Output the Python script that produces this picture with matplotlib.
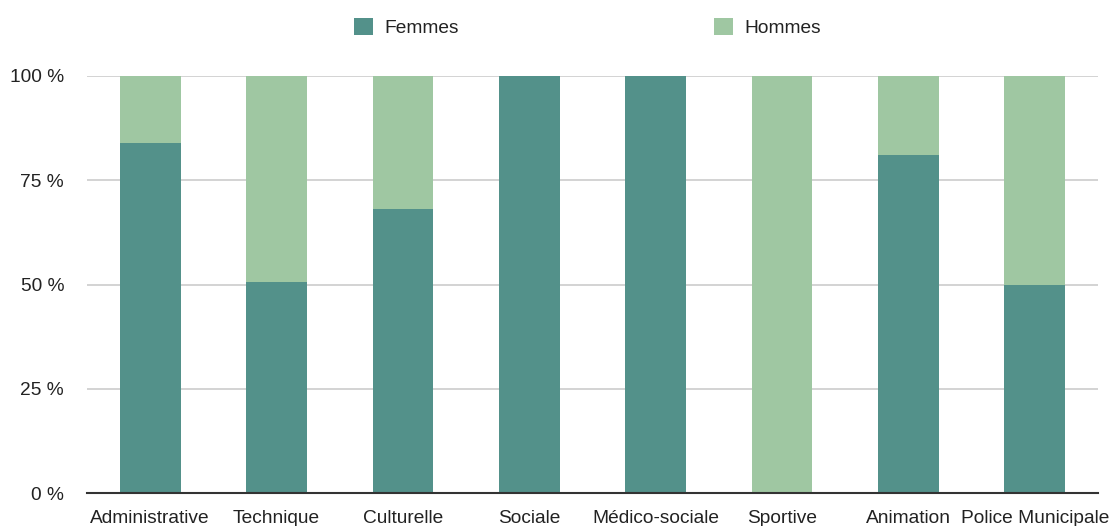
import matplotlib
matplotlib.use("Agg")
import matplotlib.pyplot as plt
import numpy as np

categories = ["Administrative", "Technique", "Culturelle", "Sociale",
              "Médico-sociale", "Sportive", "Animation", "Police Municipale"]
femmes = [84, 50.5, 68, 100, 100, 0, 81, 50]
hommes = [100 - v for v in femmes]
yticks = [0, 25, 50, 75, 100]
ytick_labels = ["0 %", "25 %", "50 %", "75 %", "100 %"]

C_F = "#53918a"
C_H = "#9fc7a2"
TXT = "#222222"

plt.rcParams["font.family"] = ["Liberation Sans", "DejaVu Sans"]
fig = plt.figure(figsize=(11.13, 5.26), dpi=100)
ax = fig.add_axes([87 / 1113, 33 / 526, (1098 - 87) / 1113, (493 - 76) / 526])

x = np.arange(len(categories))
ax.bar(x, femmes, width=0.48, color=C_F, label="Femmes", zorder=3)
ax.bar(x, hommes, width=0.48, bottom=femmes, color=C_H, label="Hommes", zorder=3)

ax.set_xlim(-0.5, 7.5)
ax.set_ylim(0, 100)
ax.set_yticks(yticks)
ax.set_yticklabels(ytick_labels)
ax.set_xticks(x)
ax.set_xticklabels(categories)
ax.tick_params(axis="both", length=0, labelsize=13.8, colors=TXT)
ax.tick_params(axis="y", pad=16.5)
ax.tick_params(axis="x", pad=12)
ax.yaxis.grid(True, color="#cccccc", lw=1.2, zorder=0)
for s in ["top", "right", "left"]:
    ax.spines[s].set_visible(False)
ax.spines["bottom"].set_color("#333333")
ax.spines["bottom"].set_linewidth(1.5)
ax.spines["bottom"].set_zorder(4)

fig.legend(loc="center", bbox_to_anchor=(0.528, 0.947), ncol=2, frameon=False,
           fontsize=13.8, handlelength=1.0, handleheight=1.0, handletextpad=0.6,
           columnspacing=13.3, labelcolor=TXT)

fig.savefig("out.png", dpi=100)
